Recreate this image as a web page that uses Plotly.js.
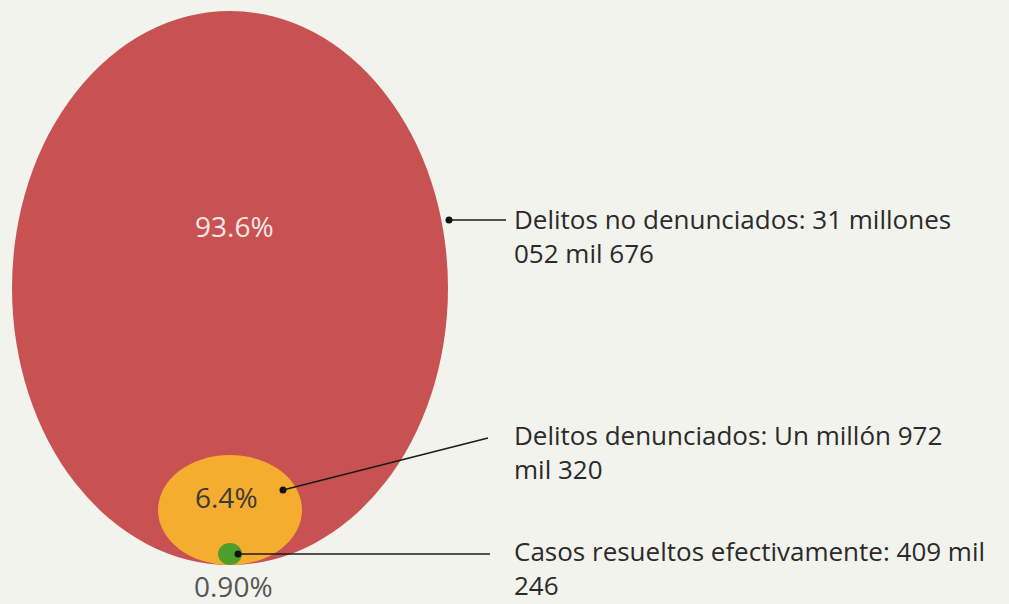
<!DOCTYPE html>
<html>
<head>
<meta charset="utf-8">
<script src="https://cdn.plot.ly/plotly-3.0.1.min.js"></script>
<style>
  html, body { margin: 0; padding: 0; background: #f3f3ee; }
  #chart { width: 1009px; height: 604px; }
</style>
</head>
<body>
<div id="chart"></div>
<script>
// data
const categories = ['Delitos no denunciados', 'Delitos denunciados', 'Casos resueltos efectivamente'];
const percentLabels = ['93.6%', '6.4%', '0.90%'];
const amountLabels = ['31 millones<br>052 mil 676', 'Un millón 972<br>mil 320', '409 mil<br>246'];

// drawing geometry (pixel-like units, y grows downward)
const ellipses = [
    { cx: 230, cy: 288, rx: 218, ry: 277, color: '#c85252' },
    { cx: 230, cy: 510, rx: 72, ry: 55, color: '#f5ad2f' },
    { cx: 230, cy: 554, rx: 12, ry: 11, color: '#4f9e2c' }
];
const dots = [[449, 220], [283, 490], [238, 554]];
const lineEnds = [[506, 220], [488, 438], [490, 554]];
const labelPos = [[512, 236], [512, 452], [512, 568]];
const pctPos = [[234, 226], [226, 497], [233, 586]];
const pctColors = ['#f6e6e6', '#3a3a3a', '#555555'];

const font = '"Open Sans", "Noto Sans", sans-serif';

const shapes = [];
ellipses.forEach(e => {
    shapes.push({
        type: 'circle', xref: 'x', yref: 'y',
        x0: e.cx - e.rx, x1: e.cx + e.rx, y0: e.cy - e.ry, y1: e.cy + e.ry,
        fillcolor: e.color, line: { width: 0 }, layer: 'below'
    });
});
dots.forEach((d, i) => {
    shapes.push({
        type: 'line', xref: 'x', yref: 'y',
        x0: d[0], y0: d[1], x1: lineEnds[i][0], y1: lineEnds[i][1],
        line: { color: '#1a1a1a', width: 1.5 }
    });
});

const annotations = [];
categories.forEach((c, i) => {
    annotations.push({
        x: labelPos[i][0], y: labelPos[i][1], xref: 'x', yref: 'y',
        text: c + ': ' + amountLabels[i], showarrow: false,
        xanchor: 'left', yanchor: 'middle', align: 'left',
        font: { family: font, size: 26, color: '#2a2a2a' }
    });
    annotations.push({
        x: pctPos[i][0], y: pctPos[i][1], xref: 'x', yref: 'y',
        text: percentLabels[i], showarrow: false,
        xanchor: 'center', yanchor: 'middle',
        font: { family: font, size: 28, color: pctColors[i] }
    });
});

const traces = [{
    type: 'scatter', mode: 'markers',
    x: dots.map(d => d[0]), y: dots.map(d => d[1]),
    marker: { color: '#111', size: 7 },
    hoverinfo: 'skip', showlegend: false
}];

const layout = {
    width: 1009, height: 604,
    margin: { l: 0, r: 0, t: 0, b: 0 },
    paper_bgcolor: '#f3f3ee', plot_bgcolor: '#f3f3ee',
    xaxis: { range: [0, 1009], visible: false, fixedrange: true },
    yaxis: { range: [604, 0], visible: false, fixedrange: true },
    shapes: shapes,
    annotations: annotations,
    showlegend: false
};

Plotly.newPlot('chart', traces, layout, { staticPlot: true });
</script>
</body>
</html>
